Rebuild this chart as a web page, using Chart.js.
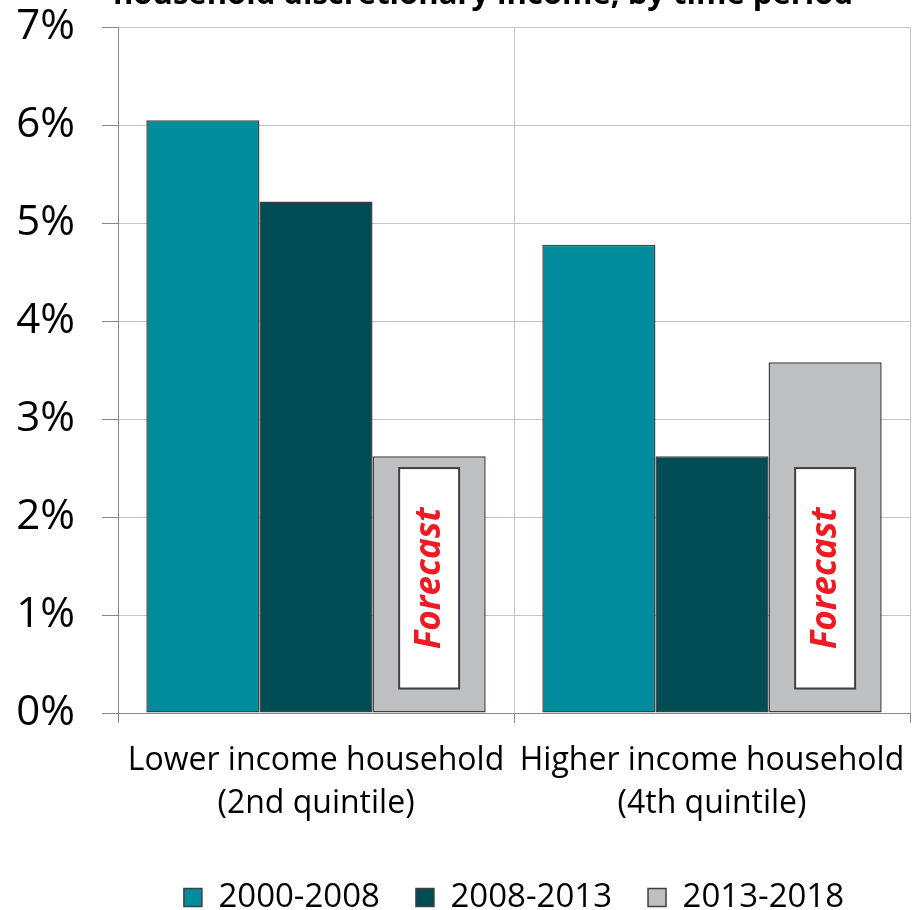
<!DOCTYPE html>
<html>
<head>
<meta charset="utf-8">
<script src="https://cdn.jsdelivr.net/npm/chart.js@4/dist/chart.umd.min.js"></script>
<style>
  html, body { margin: 0; padding: 0; background: #fff; }
  #wrap { width: 917px; height: 910px; }
</style>
</head>
<body>
<div id="wrap"><canvas id="chart"></canvas></div>
<script>
const categories = [
    ["Lower income household", "(2nd quintile)"],
    ["Higher income household", "(4th quintile)"]
]
const seriesNames = ["2000-2008", "2008-2013", "2013-2018"]
const values2000to2008 = [6.05, 4.78]
const values2008to2013 = [5.22, 2.62]
const values2013to2018 = [2.62, 3.58]
const seriesColors = ["#008C9C", "#004C55", "#BEBFC1"]
const forecastRange = [0.25, 2.5]
const titleText = "household discretionary income, by time period"

const font = "'Open Sans', sans-serif"

// partly clipped title at the very top, like the source image
const topTitle = {
    id: "topTitle",
    afterDraw(chart){
        const ctx = chart.ctx
        ctx.save()
        ctx.font = "bold 31px " + font
        ctx.fillStyle = "#000"
        ctx.textAlign = "center"
        ctx.textBaseline = "alphabetic"
        ctx.fillText(titleText, 483, 4)
        ctx.restore()
    }
}

// white "Forecast" boxes inside the last series bars
const forecastBoxes = {
    id: "forecastBoxes",
    afterDatasetsDraw(chart){
        const ctx = chart.ctx
        const y = chart.scales.y
        const meta = chart.getDatasetMeta(2)
        const top = y.getPixelForValue(forecastRange[1])
        const bottom = y.getPixelForValue(forecastRange[0])
        meta.data.forEach(bar => {
            const w = bar.width * 0.53
            const left = bar.x - w / 2
            ctx.save()
            ctx.fillStyle = "#fff"
            ctx.strokeStyle = "#404040"
            ctx.lineWidth = 2
            ctx.fillRect(left, top, w, bottom - top)
            ctx.strokeRect(left, top, w, bottom - top)
            ctx.translate(bar.x, (top + bottom) / 2)
            ctx.rotate(-Math.PI / 2)
            ctx.font = "italic bold 35px " + font
            ctx.fillStyle = "#ED1C24"
            ctx.textAlign = "center"
            ctx.textBaseline = "middle"
            ctx.fillText("Forecast", 0, 1)
            ctx.restore()
        })
    }
}

const datasets = [values2000to2008, values2008to2013, values2013to2018].map((data, i) => ({
    label: seriesNames[i],
    data,
    backgroundColor: seriesColors[i],
    borderColor: "#404040",
    borderWidth: 1.5,
    borderSkipped: false,
    categoryPercentage: 0.857,
    barPercentage: 1
}))

new Chart(document.getElementById("chart"), {
    type: "bar",
    data: { labels: categories, datasets },
    options: {
        responsive: true,
        maintainAspectRatio: false,
        animation: false,
        layout: { padding: { top: 0, right: 7, left: 0, bottom: -14 } },
        scales: {
            y: {
                min: 0,
                max: 7,
                ticks: {
                    stepSize: 1,
                    padding: 27,
                    color: "#000",
                    font: { family: font, size: 42, lineHeight: 0.01 },
                    callback: v => v + "%"
                },
                grid: { color: "#C4C4C4", tickLength: 16, tickColor: "#888" },
                border: { color: "#888" },
                afterFit(scale){ scale.width = 118 }
            },
            x: {
                ticks: {
                    padding: 16,
                    color: "#000",
                    font: { family: font, size: 32, lineHeight: 1.35 },
                    maxRotation: 0
                },
                grid: { color: "#C4C4C4", tickLength: 10, tickColor: "#888" },
                border: { color: "#888" },
                afterFit(scale){
                    scale.height = 132
                    scale.paddingLeft = 0
                    scale.paddingRight = 0
                }
            }
        },
        plugins: {
            legend: {
                position: "bottom",
                fullSize: false,
                labels: {
                    color: "#000",
                    font: { family: font, size: 33 },
                    boxWidth: 18,
                    boxHeight: 18,
                    padding: 36
                }
            },
            tooltip: { enabled: false }
        }
    },
    plugins: [topTitle, forecastBoxes]
})
</script>
</body>
</html>
